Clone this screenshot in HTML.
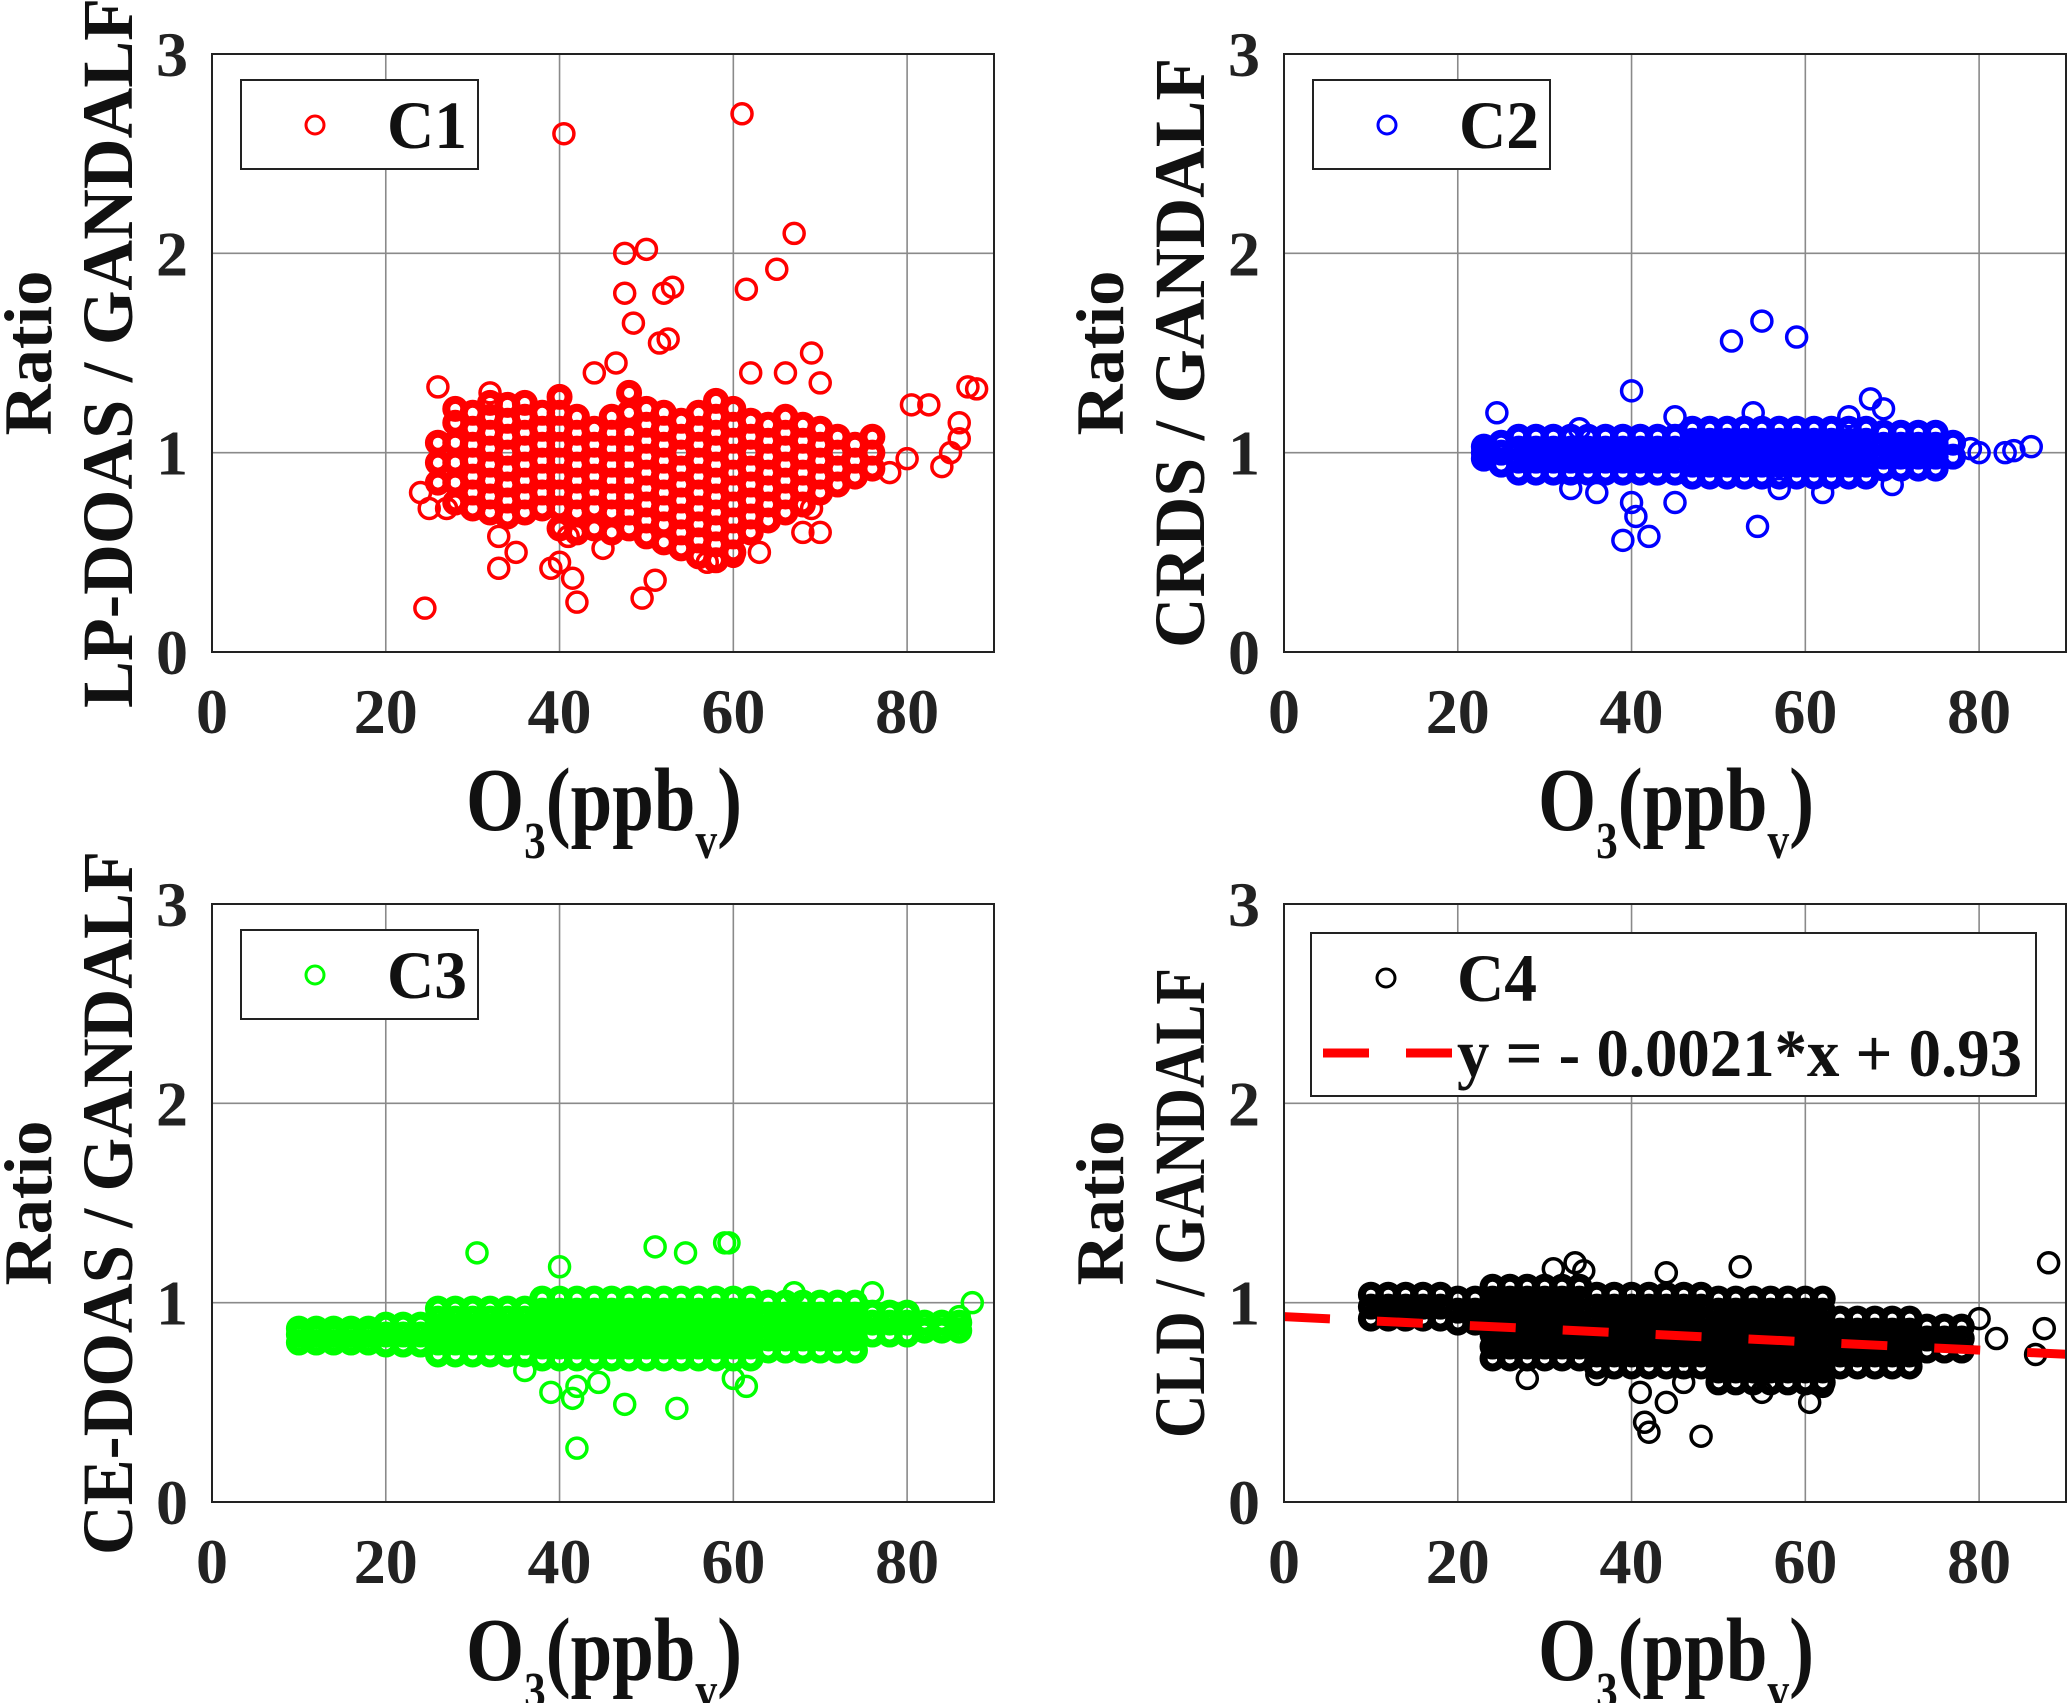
<!DOCTYPE html>
<html><head><meta charset="utf-8"><style>
html,body{margin:0;padding:0;background:#fff;}
svg{display:block;}
text{font-family:"Liberation Serif","Times New Roman",Times,serif;font-weight:bold;}
</style></head><body>
<svg id="fig" width="2067" height="1703" viewBox="0 0 2067 1703" xmlns="http://www.w3.org/2000/svg" font-weight="bold"></svg>
<script>
// ---------- data (hand-estimated) ----------
const xTicks = [0, 20, 40, 60, 80];
const yTicks = [0, 1, 2, 3];
const c1Core = [[26,[0.85,0.95,1.05]],[28,[0.75,0.85,0.95,1.05,1.15,1.22]],[30,[0.72,0.8,0.88,0.96,1.04,1.12,1.2]],[32,[0.7,0.78,0.86,0.94,1.02,1.1,1.18,1.25]],[34,[0.68,0.76,0.84,0.92,1.0,1.08,1.16,1.24]],[36,[0.7,0.78,0.86,0.94,1.02,1.1,1.18,1.25]],[38,[0.72,0.8,0.88,0.96,1.04,1.12,1.2]],[40,[0.62,0.72,0.8,0.88,0.96,1.04,1.12,1.2,1.28]],[42,[0.6,0.7,0.78,0.86,0.94,1.02,1.1,1.18]],[44,[0.62,0.72,0.8,0.88,0.96,1.04,1.12]],[46,[0.6,0.7,0.78,0.86,0.94,1.02,1.1,1.18]],[48,[0.62,0.7,0.78,0.86,0.94,1.02,1.1,1.2,1.3]],[50,[0.58,0.66,0.74,0.82,0.9,0.98,1.06,1.14,1.22]],[52,[0.55,0.64,0.72,0.8,0.88,0.96,1.04,1.12,1.2]],[54,[0.52,0.6,0.68,0.76,0.84,0.92,1.0,1.08,1.16]],[56,[0.48,0.56,0.64,0.72,0.8,0.88,0.96,1.04,1.12,1.2]],[58,[0.46,0.54,0.62,0.7,0.78,0.86,0.94,1.02,1.1,1.18,1.26]],[60,[0.5,0.58,0.66,0.74,0.82,0.9,0.98,1.06,1.14,1.22]],[62,[0.6,0.68,0.76,0.84,0.92,1.0,1.08,1.16]],[64,[0.66,0.74,0.82,0.9,0.98,1.06,1.14]],[66,[0.7,0.78,0.86,0.94,1.02,1.1,1.18]],[68,[0.74,0.82,0.9,0.98,1.06,1.14]],[70,[0.8,0.88,0.96,1.04,1.12]],[72,[0.84,0.92,1.0,1.08]],[74,[0.88,0.96,1.04]],[76,[0.92,1.0,1.08]]];
const c1Out = [[24,0.8],[24.5,0.22],[40.5,2.6],[61,2.7],[67,2.1],[47.5,2.0],[50,2.02],[47.5,1.8],[52,1.8],[53,1.83],[61.5,1.82],[65,1.92],[48.5,1.65],[51.5,1.55],[52.5,1.57],[69,1.5],[87,1.33],[88,1.32],[80.5,1.24],[82.5,1.24],[86,1.15],[86,1.07],[80,0.97],[84,0.93],[85,1.0],[78,0.9],[70,0.6],[68,0.6],[40,0.45],[33,0.42],[39,0.42],[42,0.25],[41.5,0.37],[49.5,0.27],[51,0.36],[35,0.5],[63,0.5],[60,0.48],[57,0.45],[26,1.33],[32,1.3],[44,1.4],[46.5,1.45],[66,1.4],[62,1.4],[25,0.72],[27,0.72],[33,0.58],[41,0.58],[45,0.52],[69,0.72],[70,1.35]];
const c2Core = [[23,[0.97,1.0,1.03]],[25,[0.94,1.0,1.05]],[27,[0.9,0.96,1.02,1.08]],[29,[0.9,0.96,1.02,1.08]],[31,[0.9,0.96,1.02,1.08]],[33,[0.9,0.96,1.02,1.08]],[35,[0.9,0.96,1.02,1.08]],[37,[0.9,0.96,1.02,1.08]],[39,[0.9,0.96,1.02,1.08]],[41,[0.9,0.96,1.02,1.08]],[43,[0.9,0.96,1.02,1.08]],[45,[0.9,0.96,1.02,1.08]],[47,[0.88,0.94,1.0,1.06,1.12]],[49,[0.88,0.94,1.0,1.06,1.12]],[51,[0.88,0.94,1.0,1.06,1.12]],[53,[0.88,0.94,1.0,1.06,1.12]],[55,[0.88,0.94,1.0,1.06,1.12]],[57,[0.88,0.94,1.0,1.06,1.12]],[59,[0.88,0.94,1.0,1.06,1.12]],[61,[0.88,0.94,1.0,1.06,1.12]],[63,[0.88,0.94,1.0,1.06,1.12]],[65,[0.88,0.94,1.0,1.06,1.12]],[67,[0.88,0.94,1.0,1.06,1.12]],[69,[0.92,0.98,1.04,1.1]],[71,[0.92,0.98,1.04,1.1]],[73,[0.92,0.98,1.04,1.1]],[75,[0.92,0.98,1.04,1.1]],[77,[0.98,1.05]]];
const c2Out = [[24.5,1.2],[40,1.31],[39,0.56],[42,0.58],[40.5,0.68],[40,0.75],[45,0.75],[54.5,0.63],[51.5,1.56],[55,1.66],[59,1.58],[67.5,1.27],[69,1.22],[79,1.02],[80,1.0],[83,1.0],[84,1.01],[86,1.03],[36,0.8],[33,0.82],[62,0.8],[57,0.82],[70,0.84],[34,1.12],[45,1.18],[54,1.2],[65,1.18]];
const c3Core = [[10,[0.8,0.84,0.87]],[12,[0.8,0.84,0.87]],[14,[0.8,0.84,0.87]],[16,[0.8,0.84,0.87]],[18,[0.8,0.84,0.87]],[20,[0.79,0.84,0.89]],[22,[0.79,0.84,0.89]],[24,[0.79,0.84,0.89]],[26,[0.74,0.8,0.86,0.92,0.97]],[28,[0.74,0.8,0.86,0.92,0.97]],[30,[0.74,0.8,0.86,0.92,0.97]],[32,[0.74,0.8,0.86,0.92,0.97]],[34,[0.74,0.8,0.86,0.92,0.97]],[36,[0.74,0.8,0.86,0.92,0.97]],[38,[0.72,0.78,0.84,0.9,0.96,1.02]],[40,[0.72,0.78,0.84,0.9,0.96,1.02]],[42,[0.72,0.78,0.84,0.9,0.96,1.02]],[44,[0.72,0.78,0.84,0.9,0.96,1.02]],[46,[0.72,0.78,0.84,0.9,0.96,1.02]],[48,[0.72,0.78,0.84,0.9,0.96,1.02]],[50,[0.72,0.78,0.84,0.9,0.96,1.02]],[52,[0.72,0.78,0.84,0.9,0.96,1.02]],[54,[0.72,0.78,0.84,0.9,0.96,1.02]],[56,[0.72,0.78,0.84,0.9,0.96,1.02]],[58,[0.72,0.78,0.84,0.9,0.96,1.02]],[60,[0.72,0.78,0.84,0.9,0.96,1.02]],[62,[0.72,0.78,0.84,0.9,0.96,1.02]],[64,[0.76,0.82,0.88,0.94,1.0]],[66,[0.76,0.82,0.88,0.94,1.0]],[68,[0.76,0.82,0.88,0.94,1.0]],[70,[0.76,0.82,0.88,0.94,1.0]],[72,[0.76,0.82,0.88,0.94,1.0]],[74,[0.76,0.82,0.88,0.94,1.0]],[76,[0.84,0.9,0.95]],[78,[0.84,0.9,0.95]],[80,[0.84,0.9,0.95]],[82,[0.86,0.9]],[84,[0.86,0.9]],[86,[0.86,0.9]]];
const c3Out = [[30.5,1.25],[40,1.18],[51,1.28],[54.5,1.25],[59,1.3],[59.5,1.3],[42,0.27],[41.5,0.52],[39,0.55],[42,0.58],[47.5,0.49],[53.5,0.47],[44.5,0.6],[61.5,0.58],[60,0.62],[36,0.66],[76,1.05],[87.5,1.0],[86,0.93],[67,1.05]];
const c4Core = [[10,[0.92,0.98,1.04]],[12,[0.92,0.98,1.04]],[14,[0.92,0.98,1.04]],[16,[0.92,0.98,1.04]],[18,[0.92,0.98,1.04]],[20,[0.9,0.96,1.02]],[22,[0.9,0.96,1.02]],[24,[0.72,0.78,0.84,0.9,0.96,1.02,1.08]],[26,[0.72,0.78,0.84,0.9,0.96,1.02,1.08]],[28,[0.72,0.78,0.84,0.9,0.96,1.02,1.08]],[30,[0.72,0.78,0.84,0.9,0.96,1.02,1.08]],[32,[0.72,0.78,0.84,0.9,0.96,1.02,1.08]],[34,[0.72,0.78,0.84,0.9,0.96,1.02,1.08]],[36,[0.68,0.74,0.8,0.86,0.92,0.98,1.04]],[38,[0.68,0.74,0.8,0.86,0.92,0.98,1.04]],[40,[0.68,0.74,0.8,0.86,0.92,0.98,1.04]],[42,[0.68,0.74,0.8,0.86,0.92,0.98,1.04]],[44,[0.68,0.74,0.8,0.86,0.92,0.98,1.04]],[46,[0.68,0.74,0.8,0.86,0.92,0.98,1.04]],[48,[0.68,0.74,0.8,0.86,0.92,0.98,1.04]],[50,[0.6,0.66,0.72,0.78,0.84,0.9,0.96,1.02]],[52,[0.6,0.66,0.72,0.78,0.84,0.9,0.96,1.02]],[54,[0.6,0.66,0.72,0.78,0.84,0.9,0.96,1.02]],[56,[0.6,0.66,0.72,0.78,0.84,0.9,0.96,1.02]],[58,[0.6,0.66,0.72,0.78,0.84,0.9,0.96,1.02]],[60,[0.6,0.66,0.72,0.78,0.84,0.9,0.96,1.02]],[62,[0.6,0.66,0.72,0.78,0.84,0.9,0.96,1.02]],[64,[0.68,0.74,0.8,0.86,0.92]],[66,[0.68,0.74,0.8,0.86,0.92]],[68,[0.68,0.74,0.8,0.86,0.92]],[70,[0.68,0.74,0.8,0.86,0.92]],[72,[0.68,0.74,0.8,0.86,0.92]],[74,[0.76,0.82,0.88]],[76,[0.76,0.82,0.88]],[78,[0.76,0.82,0.88]]];
const c4Out = [[88,1.2],[87.5,0.87],[86.5,0.74],[82,0.82],[80,0.92],[78,0.82],[42,0.35],[41.5,0.4],[41,0.55],[48,0.33],[44,0.5],[60.5,0.5],[55,0.55],[33.5,1.2],[31,1.17],[34.5,1.16],[44,1.15],[52.5,1.18],[28,0.62],[36,0.64],[62,0.58],[46,0.6]];
const fitSlope = -0.0021;
const fitIntercept = 0.93;
const fitRange = [0, 90];

const NS = "http://www.w3.org/2000/svg";
const svg = document.getElementById('fig');
function mk(tag, attrs, parent) {
  const e = document.createElementNS(NS, tag);
  for (const k in attrs) e.setAttribute(k, attrs[k]);
  (parent || svg).appendChild(e);
  return e;
}

const panels = [
  {id:'c1', L:212, R:994, T:54, B:652, color:'#ff0000', core:c1Core, out:c1Out, label:'LP-DOAS / GANDALF', labLen:710, legend:'C1', ratioX:28, labX:108, tickR:188},
  {id:'c2', L:1284, R:2066, T:54, B:652, color:'#0000ff', core:c2Core, out:c2Out, label:'CRDS / GANDALF', labLen:590, legend:'C2', ratioX:1100, labX:1180, tickR:1260},
  {id:'c3', L:212, R:994, T:904, B:1502, color:'#00ff00', core:c3Core, out:c3Out, label:'CE-DOAS / GANDALF', labLen:704, legend:'C3', ratioX:28, labX:108, tickR:188},
  {id:'c4', L:1284, R:2066, T:904, B:1502, color:'#000000', core:c4Core, out:c4Out, label:'CLD / GANDALF', labLen:470, legend:'C4', ratioX:1100, labX:1180, tickR:1260}
];

panels.forEach(p => {
  const g = mk('g', {});
  
  
  const xs = v => p.L + v / 90 * (p.R - p.L);
  const ys = v => p.B - v / 3 * (p.B - p.T);
  const clipId = 'clip-' + p.id;
  const cp = mk('clipPath', {id: clipId}, g);
  mk('rect', {x:p.L, y:p.T, width:p.R - p.L, height:p.B - p.T}, cp);
  xTicks.forEach(t => {
    if (t === 0) return;
    const l = mk('line', {x1:xs(t), x2:xs(t), y1:p.T, y2:p.B, stroke:'#8a8a8a', 'stroke-width':1.6}, g);
    
    
  });
  yTicks.forEach(t => {
    if (t === 0 || t === 3) return;
    const l = mk('line', {x1:p.L, x2:p.R, y1:ys(t), y2:ys(t), stroke:'#8a8a8a', 'stroke-width':1.6}, g);
    
    
  });
  const pg = mk('g', {'clip-path':'url(#' + clipId + ')'}, g);
  
  
  p.out.forEach(pt => {
    const c = mk('circle', {cx:xs(pt[0]), cy:ys(pt[1]), r:10, fill:'none', stroke:p.color, 'stroke-width':3.5}, pg);
    
    
  });
  p.core.forEach(col => col[1].forEach(y => {
    const c = mk('circle', {cx:xs(col[0]), cy:ys(y), r:9, fill:'none', stroke:p.color, 'stroke-width':8}, pg);
    
    
  }));
  if (p.id === 'c4') {
    const fl = mk('line', {x1:xs(fitRange[0]), y1:ys(fitSlope*fitRange[0]+fitIntercept), x2:xs(fitRange[1]), y2:ys(fitSlope*fitRange[1]+fitIntercept), stroke:'#ff0000', 'stroke-width':9, 'stroke-dasharray':'46 47', 'clip-path':'url(#' + clipId + ')'}, g);
    
    
  }
  const box = mk('rect', {x:p.L, y:p.T, width:p.R - p.L, height:p.B - p.T, fill:'none', stroke:'#222', 'stroke-width':2}, g);
  
  
  xTicks.forEach(t => {
    const tx = mk('text', {x:xs(t), y:p.B + 81, 'text-anchor':'middle', 'font-size':64, fill:'#222'}, g);
    tx.textContent = t;
    
    
  });
  yTicks.forEach(t => {
    const tx = mk('text', {x:p.tickR, y:ys(t) + 22, 'text-anchor':'end', 'font-size':64, fill:'#222'}, g);
    tx.textContent = t;
    
    
  });
  const xt = mk('text', {x:(p.L + p.R) / 2 - 137, y:p.B + 178, 'font-size':90, fill:'#111', textLength:276, lengthAdjust:'spacingAndGlyphs'}, g);
  
  
  xt.innerHTML = 'O<tspan font-size="52" dy="28">3</tspan><tspan dy="-28">(ppb</tspan><tspan font-size="52" dy="28">v</tspan><tspan dy="-28">)</tspan>';
  const cy = (p.T + p.B) / 2;
  const r1 = mk('text', {x:p.ratioX, y:cy, transform:'rotate(-90 ' + p.ratioX + ' ' + cy + ')', 'text-anchor':'middle', 'dominant-baseline':'central', 'font-size':68, fill:'#111', textLength:165, lengthAdjust:'spacingAndGlyphs'}, g);
  r1.textContent = 'Ratio';
  
  
  const r2 = mk('text', {x:p.labX, y:cy, transform:'rotate(-90 ' + p.labX + ' ' + cy + ')', 'text-anchor':'middle', 'dominant-baseline':'central', 'font-size':72, fill:'#111', textLength:p.labLen, lengthAdjust:'spacingAndGlyphs'}, g);
  r2.textContent = p.label;
  
  
  const lg = mk('g', {}, g);
  
  
  const lx = p.L + 29;
  const ly = p.T + 26;
  if (p.id !== 'c4') {
    mk('rect', {x:lx, y:ly, width:237, height:89, fill:'#fff', stroke:'#222', 'stroke-width':2}, lg);
    mk('circle', {cx:lx + 74, cy:ly + 45, r:9, fill:'none', stroke:p.color, 'stroke-width':3}, lg);
    const lt = mk('text', {x:lx + 146, y:ly + 68, 'font-size':68, fill:'#111', textLength:80, lengthAdjust:'spacingAndGlyphs'}, lg);
    lt.textContent = p.legend;
    
    
  } else {
    mk('rect', {x:lx - 2, y:ly + 3, width:725, height:163, fill:'#fff', stroke:'#222', 'stroke-width':2}, lg);
    mk('circle', {cx:lx + 73, cy:ly + 48, r:9, fill:'none', stroke:'#000', 'stroke-width':3}, lg);
    const lt = mk('text', {x:lx + 144, y:ly + 71, 'font-size':68, fill:'#111', textLength:80, lengthAdjust:'spacingAndGlyphs'}, lg);
    lt.textContent = 'C4';
    
    
    mk('line', {x1:lx + 10, x2:lx + 139, y1:ly + 123, y2:ly + 123, stroke:'#ff0000', 'stroke-width':9, 'stroke-dasharray':'46 37'}, lg);
    const ft = mk('text', {x:lx + 144, y:ly + 146, 'font-size':68, fill:'#111', textLength:565, lengthAdjust:'spacingAndGlyphs'}, lg);
    ft.textContent = 'y = - 0.0021*x + 0.93';
    
    
  }
});
</script>
</body></html>
